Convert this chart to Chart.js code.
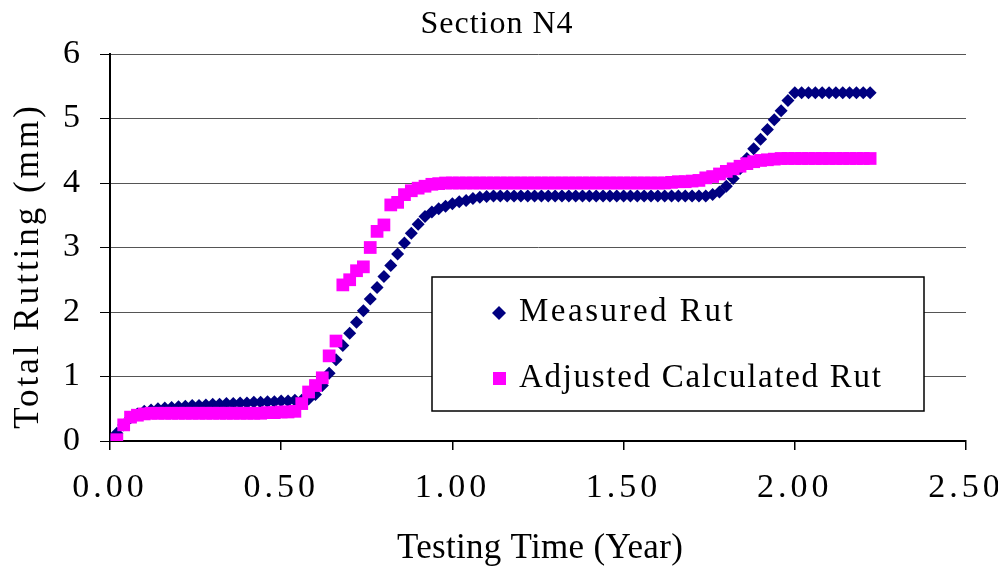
<!DOCTYPE html>
<html><head><meta charset="utf-8">
<script src="https://cdn.jsdelivr.net/npm/chart.js@4/dist/chart.umd.min.js"></script>
<style>html,body{margin:0;padding:0;background:#fff}#wrap{width:998px;height:567px;position:relative}</style>
</head><body><div id="wrap"><canvas id="c"></canvas></div>
<script>
const chartTitle = 'Section N4';
const xAxisTitle = 'Testing Time (Year)';
const yAxisTitle = 'Total Rutting (mm)';
const seriesNames = ['Measured Rut', 'Adjusted Calculated Rut'];
const xTickValues = [0, 0.5, 1, 1.5, 2, 2.5];
const yTickValues = [0, 1, 2, 3, 4, 5, 6];

const years = [0,0.02,0.04,0.06,0.08,0.1,0.12,0.14,0.16,0.18,0.2,0.22,0.24,0.26,0.28,0.3,0.32,0.34,0.36,0.38,
0.4,0.42,0.44,0.46,0.48,0.5,0.52,0.54,0.56,0.58,0.6,0.62,0.64,0.66,0.68,0.7,0.72,0.74,0.76,0.78,
0.8,0.82,0.84,0.86,0.88,0.9,0.92,0.94,0.96,0.98,1,1.02,1.04,1.06,1.08,1.1,1.12,1.14,1.16,1.18,
1.2,1.22,1.24,1.26,1.28,1.3,1.32,1.34,1.36,1.38,1.4,1.42,1.44,1.46,1.48,1.5,1.52,1.54,1.56,1.58,
1.6,1.62,1.64,1.66,1.68,1.7,1.72,1.74,1.76,1.78,1.8,1.82,1.84,1.86,1.88,1.9,1.92,1.94,1.96,1.98,
2,2.02,2.04,2.06,2.08,2.1,2.12,2.14,2.16,2.18,2.2,2.22];

const measuredRut = [0,0.12,0.25,0.36,0.42,0.46,0.48,0.50,0.51,0.52,
0.53,0.54,0.55,0.55,0.56,0.57,0.57,0.58,0.58,0.59,
0.59,0.60,0.60,0.61,0.61,0.62,0.62,0.63,0.63,0.65,
0.72,0.86,1.05,1.26,1.48,1.67,1.84,2.02,2.20,2.38,
2.55,2.72,2.90,3.07,3.22,3.36,3.48,3.55,3.60,3.64,
3.68,3.71,3.73,3.76,3.78,3.79,3.80,3.80,3.80,3.80,
3.80,3.80,3.80,3.80,3.80,3.80,3.80,3.80,3.80,3.80,
3.80,3.80,3.80,3.80,3.80,3.80,3.80,3.80,3.80,3.80,
3.80,3.80,3.80,3.80,3.80,3.80,3.80,3.80,3.82,3.86,
3.95,4.07,4.22,4.38,4.53,4.68,4.83,4.98,5.12,5.28,
5.40,5.40,5.40,5.40,5.40,5.40,5.40,5.40,5.40,5.40,
5.40,5.40];

const adjustedCalcRut = [null,0.02,0.25,0.37,0.40,0.42,0.43,0.43,0.43,0.43,
0.43,0.43,0.43,0.43,0.43,0.43,0.43,0.43,0.43,0.43,
0.43,0.43,0.43,0.44,0.44,0.45,0.45,0.46,0.58,0.76,
0.86,0.98,1.32,1.55,2.42,2.50,2.64,2.70,3.00,3.25,
3.35,3.66,3.70,3.82,3.88,3.92,3.95,3.98,3.99,4.00,
4.00,4.00,4.00,4.00,4.00,4.00,4.00,4.00,4.00,4.00,
4.00,4.00,4.00,4.00,4.00,4.00,4.00,4.00,4.00,4.00,
4.00,4.00,4.00,4.00,4.00,4.00,4.00,4.00,4.00,4.00,
4.00,4.00,4.01,4.02,4.02,4.03,4.04,4.08,4.10,4.14,
4.18,4.22,4.26,4.30,4.33,4.35,4.36,4.37,4.38,4.38,
4.38,4.38,4.38,4.38,4.38,4.38,4.38,4.38,4.38,4.38,
4.38,4.38];

const navy = '#000080';
const magenta = '#FF00FF';
const FONT = "'Liberation Serif', 'Times New Roman', serif";

function toPoints(xs, ys) {
  const out = [];
  for (let i = 0; i < xs.length; i++) {
    if (ys[i] !== null && ys[i] !== undefined) out.push({x: xs[i], y: ys[i]});
  }
  return out;
}

function drawText(ctx, text, x, y, size, ls, align, rot) {
  ctx.save();
  ctx.font = size + 'px ' + FONT;
  ctx.letterSpacing = ls + 'px';
  ctx.fillStyle = '#000';
  ctx.textAlign = align;
  ctx.textBaseline = 'alphabetic';
  ctx.translate(x, y);
  if (rot) ctx.rotate(rot);
  ctx.fillText(text, 0, 0);
  ctx.restore();
}

const decor = {
  id: 'decor',
  beforeDraw(chart) {
    chart.ctx.letterSpacing = '4px';
  },
  afterDraw(chart) {
    const ctx = chart.ctx;
    ctx.save();
    ctx.letterSpacing = '0px';
    // title
    drawText(ctx, chartTitle, 497, 33, 32, 1, 'center', 0);
    // axis titles
    drawText(ctx, xAxisTitle, 540, 558, 35, 0.3, 'center', 0);
    drawText(ctx, yAxisTitle, 38, 266, 35, 3, 'center', -Math.PI / 2);
    // legend box
    const lx = 432, ly = 277, lw = 492, lh = 134;
    ctx.fillStyle = '#fff';
    ctx.fillRect(lx, ly, lw, lh);
    ctx.strokeStyle = '#000';
    ctx.lineWidth = 1.5;
    ctx.strokeRect(lx, ly, lw, lh);
    // markers
    ctx.fillStyle = navy;
    ctx.beginPath();
    ctx.moveTo(499, 306); ctx.lineTo(506, 313); ctx.lineTo(499, 320); ctx.lineTo(492, 313);
    ctx.closePath(); ctx.fill();
    ctx.fillStyle = magenta;
    ctx.fillRect(493, 372, 13, 13);
    drawText(ctx, seriesNames[0], 519, 321, 33, 2.5, 'left', 0);
    drawText(ctx, seriesNames[1], 519, 387, 33, 1.7, 'left', 0);
    ctx.restore();
  }
};

new Chart(document.getElementById('c'), {
  type: 'scatter',
  data: {
    datasets: [
      {
        label: seriesNames[0],
        data: toPoints(years, measuredRut),
        pointStyle: 'rectRot',
        pointRadius: 6.5,
        pointHoverRadius: 6.5,
        backgroundColor: navy,
        borderColor: navy,
        borderWidth: 0,
        showLine: false,
        order: 2
      },
      {
        label: seriesNames[1],
        data: toPoints(years, adjustedCalcRut),
        pointStyle: 'rect',
        pointRadius: 9,
        pointHoverRadius: 9,
        backgroundColor: magenta,
        borderColor: magenta,
        borderWidth: 0,
        showLine: false,
        order: 1
      }
    ]
  },
  options: {
    responsive: true,
    maintainAspectRatio: false,
    animation: false,
    devicePixelRatio: 1,
    layout: { padding: { top: 54, right: 32, bottom: 0, left: 0 } },
    plugins: {
      legend: { display: false },
      title: { display: false },
      tooltip: { enabled: false }
    },
    scales: {
      x: {
        type: 'linear',
        min: 0, max: 2.5,
        afterBuildTicks(scale) { scale.ticks = xTickValues.map(v => ({value: v})); },
        afterFit(scale) { scale.height = 126; scale.paddingLeft = 0; scale.paddingRight = 0; },
        ticks: {
          color: '#000',
          font: { family: FONT, size: 34 },
          padding: 18,
          maxRotation: 0,
          callback: v => Number(v).toFixed(2)
        },
        grid: { drawOnChartArea: false, drawTicks: true, tickLength: 9, color: '#000', tickColor: '#000', lineWidth: 1.5 },
        border: { display: true, color: '#000', width: 2 }
      },
      y: {
        type: 'linear',
        min: 0, max: 6,
        afterBuildTicks(scale) { scale.ticks = yTickValues.map(v => ({value: v})); },
        afterFit(scale) { scale.width = 110; },
        ticks: {
          color: '#000',
          font: { family: FONT, size: 34 },
          padding: 16,
          callback: v => String(v)
        },
        grid: { color: '#555', lineWidth: 1, tickLength: 10, tickColor: '#000' },
        border: { display: true, color: '#000', width: 2 }
      }
    }
  },
  plugins: [decor]
});
</script>
</body></html>
